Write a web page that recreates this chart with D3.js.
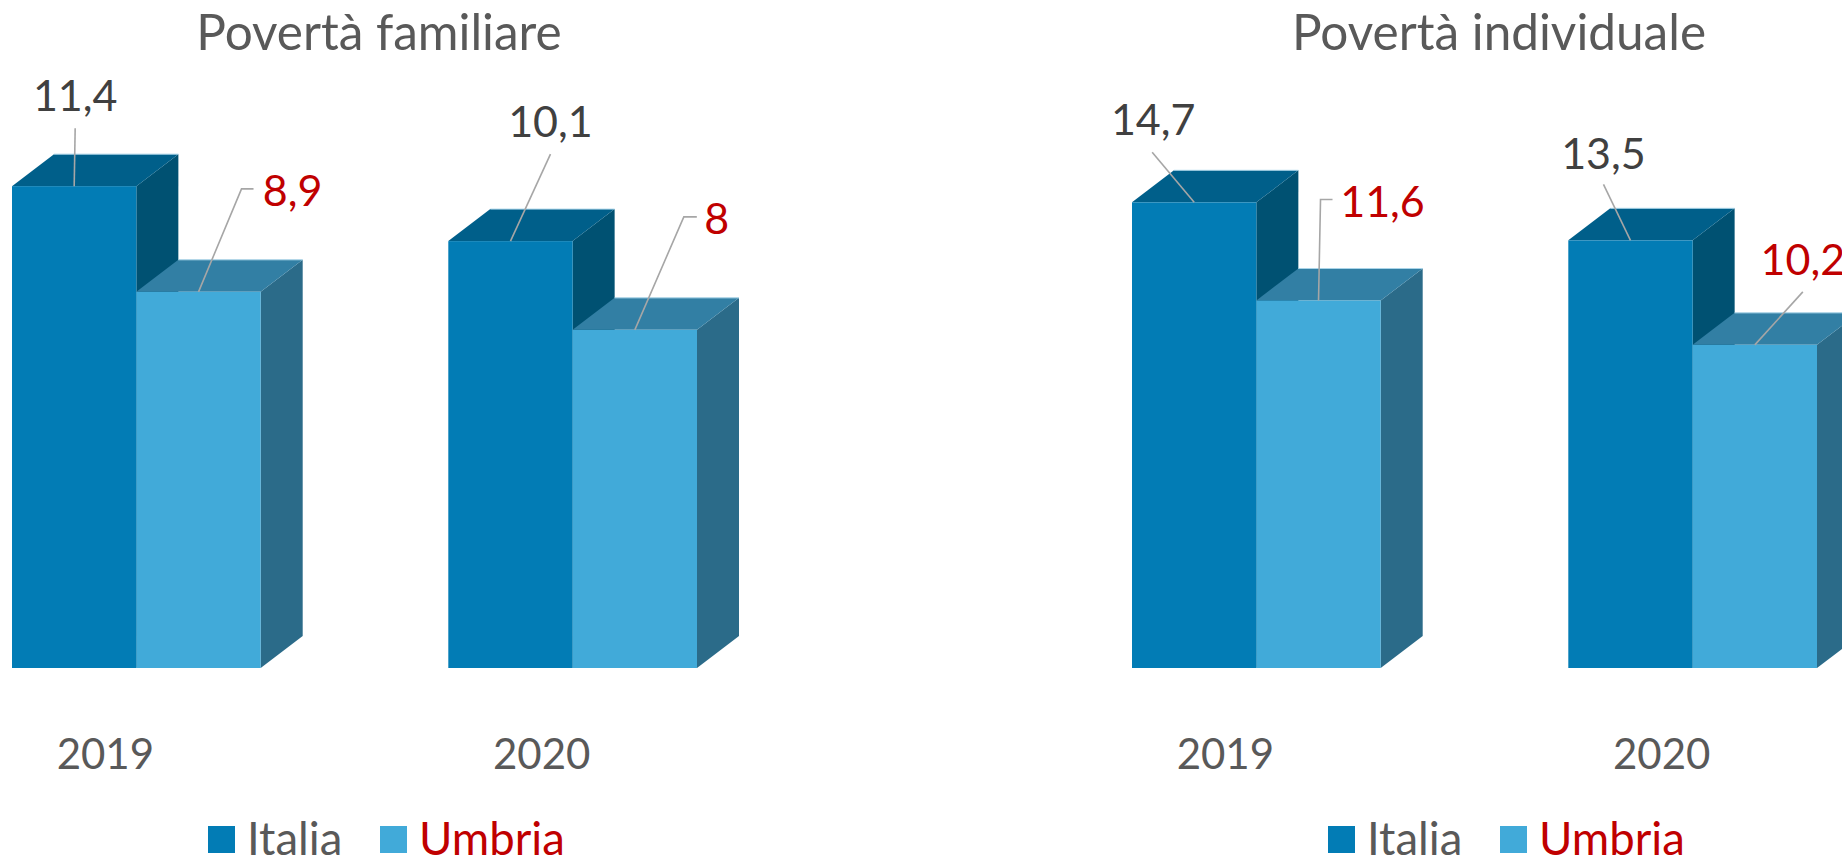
<!DOCTYPE html>
<html>
<head>
<meta charset="utf-8">
<script src="https://cdn.jsdelivr.net/npm/d3@7"></script>
<style>
  html, body { margin: 0; padding: 0; background: #fff; overflow: hidden; }
  text { font-family: Lato, "Open Sans", sans-serif; }
</style>
</head>
<body>
<div id="chart"></div>
<script>
// data
var years = ["2019", "2020"];
var seriesNames = ["Italia", "Umbria"];
var familiareItalia = [11.4, 10.1];
var familiareUmbria = [8.9, 8];
var individualeItalia = [14.7, 13.5];
var individualeUmbria = [11.6, 10.2];

// set the dimensions of the page
var width = 1842, height = 857;
var baseY = 668, depthX = 42, depthY = 32;

var svg = d3.select("#chart")
  .append("svg")
    .attr("width", width)
    .attr("height", height);

var colors = {
  Italia: {front: "#027cb5", top: "#005f8a", side: "#005172"},
  Umbria: {front: "#41aad9", top: "#327fa4", side: "#2b6b89"}
};
var edgeColor = "#a9d4e8";
var textColors = {Italia: "#404040", Umbria: "#c00000"};
var legendColors = {Italia: "#595959", Umbria: "#c00000"};

// label position, relative to the top centre of the front face of its bar.
// bx,by is where the leader line bends, ex,ey is where it stops
var familiareLayout = [
  {lx: 1, ly: -75, ex: 1, ey: -58},
  {lx: 94, ly: -86, bx: 43, by: -103, ex: 55, ey: -103},
  {lx: 40, ly: -104, ex: 40, ey: -87},
  {lx: 82, ly: -96, bx: 49, by: -113, ex: 62, ey: -113}
];
var individualeLayout = [
  {lx: -41, ly: -67, ex: -42, ey: -50},
  {lx: 64, ly: -84, bx: 2, by: -101, ex: 14, ey: -101},
  {lx: -27, ly: -71, ex: -27, ey: -56},
  {lx: 48, ly: -70, ex: 48, ey: -53}
];

function drawPanel(opt) {
  var g = svg.append("g");

  var x = d3.scaleBand()
    .domain(years)
    .range(opt.xRange)
    .paddingInner(0.43)
    .paddingOuter(0);

  var xInner = d3.scaleBand()
    .domain(seriesNames)
    .range([0, x.bandwidth()]);

  var y = d3.scaleLinear()
    .domain([0, opt.yMax])
    .range([baseY, opt.yTop]);

  // flatten to one row per bar, drawn left to right so Umbria overlaps Italia
  var rows = [];
  years.forEach(function(year, i) {
    rows.push({year: year, name: "Italia", value: opt.italia[i]});
    rows.push({year: year, name: "Umbria", value: opt.umbria[i]});
  });
  rows.forEach(function(d, i) {
    d.x0 = x(d.year) + xInner(d.name);
    d.x1 = d.x0 + xInner.bandwidth();
    d.y0 = y(d.value);
    d.layout = opt.layout[i];
  });

  var bars = g.selectAll("g.bar")
    .data(rows)
    .enter().append("g")
      .attr("class", "bar");

  // side face
  bars.append("path")
    .attr("d", function(d) {
      return "M" + d.x1 + "," + d.y0 +
        "L" + (d.x1 + depthX) + "," + (d.y0 - depthY) +
        "L" + (d.x1 + depthX) + "," + (baseY - depthY) +
        "L" + d.x1 + "," + baseY + "Z";
    })
    .attr("fill", function(d) { return colors[d.name].side; });

  // top face
  bars.append("path")
    .attr("d", function(d) {
      return "M" + d.x0 + "," + d.y0 +
        "L" + (d.x0 + depthX) + "," + (d.y0 - depthY) +
        "L" + (d.x1 + depthX) + "," + (d.y0 - depthY) +
        "L" + d.x1 + "," + d.y0 + "Z";
    })
    .attr("fill", function(d) { return colors[d.name].top; });

  // front face
  bars.append("rect")
    .attr("x", function(d) { return d.x0; })
    .attr("y", function(d) { return d.y0; })
    .attr("width", xInner.bandwidth())
    .attr("height", function(d) { return baseY - d.y0; })
    .attr("fill", function(d) { return colors[d.name].front; });

  // thin pale edge along the back of the top face
  bars.append("line")
    .attr("x1", function(d) { return d.x0 + depthX; })
    .attr("x2", function(d) { return d.x1 + depthX; })
    .attr("y1", function(d) { return d.y0 - depthY; })
    .attr("y2", function(d) { return d.y0 - depthY; })
    .attr("stroke", edgeColor)
    .attr("stroke-width", 1);

  // leader lines on top of all the bars
  g.selectAll("path.leader")
    .data(rows)
    .enter().append("path")
      .attr("class", "leader")
      .attr("fill", "none")
      .attr("stroke", "#a6a6a6")
      .attr("stroke-width", 1.6)
      .attr("d", function(d) {
        var cx = (d.x0 + d.x1) / 2, l = d.layout;
        var p = "M" + cx + "," + d.y0;
        if (l.bx !== undefined) p += "L" + (cx + l.bx) + "," + (d.y0 + l.by);
        return p + "L" + (cx + l.ex) + "," + (d.y0 + l.ey);
      });

  g.selectAll("text.value")
    .data(rows)
    .enter().append("text")
      .attr("class", "value")
      .attr("x", function(d) { return (d.x0 + d.x1) / 2 + d.layout.lx; })
      .attr("y", function(d) { return d.y0 + d.layout.ly; })
      .attr("text-anchor", "middle")
      .attr("font-size", 43)
      .attr("fill", function(d) { return textColors[d.name]; })
      .text(function(d) { return String(d.value).replace(".", ","); });

  // category axis, shifted left as in the 3D layout of the original
  var axis = g.append("g")
    .attr("transform", "translate(-31,738)")
    .call(d3.axisBottom(x).tickSize(0).tickPadding(0));
  axis.select(".domain").remove();
  axis.selectAll("text")
    .attr("font-size", 42)
    .attr("fill", "#595959")
    .attr("dy", "0.74em")
    .style("font-family", "Lato, 'Open Sans', sans-serif");

  // title
  g.append("text")
    .attr("x", opt.titleX)
    .attr("y", 50)
    .attr("text-anchor", "middle")
    .attr("font-size", 49.5)
    .attr("fill", "#595959")
    .text(opt.title);

  // legend
  var legend = g.selectAll("g.legend")
    .data(seriesNames)
    .enter().append("g")
      .attr("class", "legend")
      .attr("transform", function(d, i) { return "translate(" + opt.legendX[i] + ",826)"; });
  legend.append("rect")
    .attr("width", 27)
    .attr("height", 27)
    .attr("fill", function(d) { return colors[d].front; });
  legend.append("text")
    .attr("x", 39)
    .attr("y", 29)
    .attr("font-size", 45.5)
    .attr("fill", function(d) { return legendColors[d]; })
    .text(function(d) { return d; });
}

drawPanel({
  title: "Povertà familiare", titleX: 379,
  italia: familiareItalia, umbria: familiareUmbria,
  xRange: [12, 697], yMax: 12, yTop: 160.8,
  layout: familiareLayout, legendX: [208, 380]
});

drawPanel({
  title: "Povertà individuale", titleX: 1499,
  italia: individualeItalia, umbria: individualeUmbria,
  xRange: [1132, 1817], yMax: 15, yTop: 192.8,
  layout: individualeLayout, legendX: [1328, 1500]
});
</script>
</body>
</html>
